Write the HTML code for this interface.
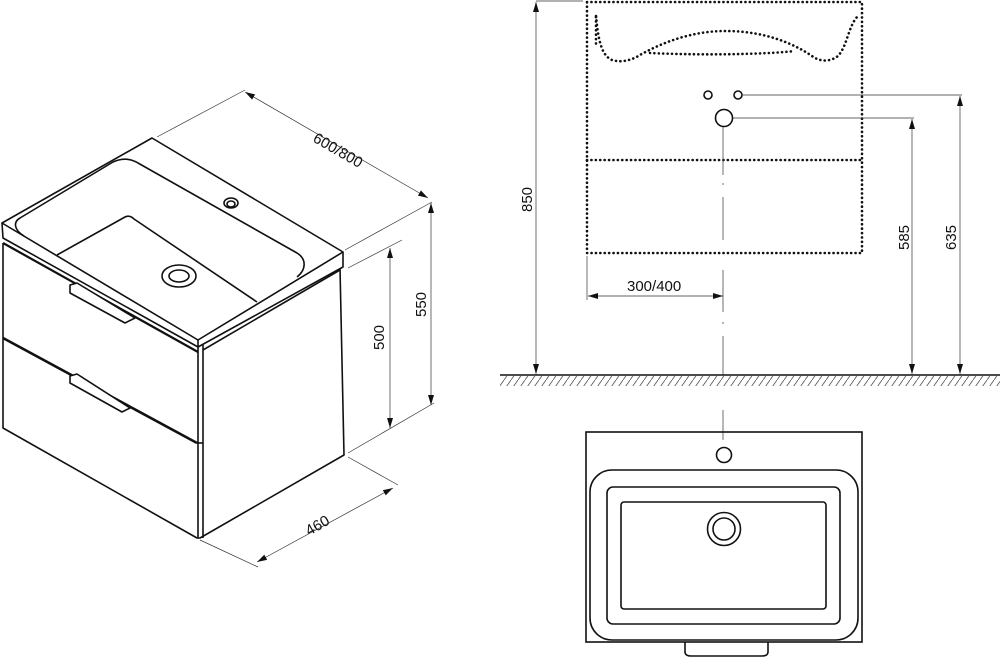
<!DOCTYPE html>
<html><head><meta charset="utf-8"><style>
html,body{margin:0;padding:0;background:#fff;}
svg{display:block;}
text{font-family:"Liberation Sans",Arial,sans-serif;font-size:15px;fill:#111;}
</style></head><body>
<svg width="1000" height="657" viewBox="0 0 1000 657" xmlns="http://www.w3.org/2000/svg">
<defs>
<marker id="a" viewBox="0 0 10 6" refX="10" refY="3" markerWidth="10" markerHeight="6" orient="auto-start-reverse" markerUnits="userSpaceOnUse"><path d="M0,0 L10,3 L0,6 z" fill="#111"/></marker>
<pattern id="h" width="7" height="10" patternUnits="userSpaceOnUse"><line x1="0" y1="10" x2="7" y2="0" stroke="#555" stroke-width="0.8"/></pattern>
</defs>

<!-- ISO cabinet -->
<g fill="none" stroke="#111" stroke-width="1.6" stroke-linejoin="round">
<path d="M2,223 L152,138 L343,252 L198,340 Z" fill="#fff"/>
<path d="M2,223 L3,238 L198,347 L343,267 L343,252"/>
<path d="M198,340 L198,347"/>
<path d="M3,243 L3,428 L197,538 L200,538 L344,455 L340,268"/>
<path d="M198,347 L198,538 M203,345 L203,538"/>
<path d="M203,350 L340,270"/>
<path d="M3,243 L198,352" stroke-width="2.2"/>
<path d="M3,338 L197,443" stroke-width="2.6"/>
<path d="M197,443 L203,443"/>
<path d="M70,285 L77,283 L135,318 L125,323 L70,293 Z" fill="#fff"/>
<path d="M70,376 L77,374 L130,408 L122,412 L70,383 Z" fill="#fff"/>
<path d="M24,236 C14,230 13,222 20,218 L113,162 C122,158 130,158 138,163 L297,253 C307,259 306,270 297,277"/>
<path d="M57,255 L125,217 C129,215 132,217 134,219 L257,302"/>
<ellipse cx="179" cy="276" rx="17" ry="11"/>
<ellipse cx="179" cy="276" rx="10" ry="6"/>
<ellipse cx="231" cy="203" rx="7" ry="5"/>
<ellipse cx="231" cy="204" rx="4" ry="3"/>
</g>

<g stroke="#333" stroke-width="0.7" fill="none">
<path d="M157,137 L245,90"/>
<path d="M345,250 L432,202"/>
<path d="M245,92 L428,198" marker-start="url(#a)" marker-end="url(#a)"/>
<path d="M348,268 L402,240"/>
<path d="M348,453 L434,403"/>
<path d="M390,248 L390,428" marker-start="url(#a)" marker-end="url(#a)"/>
<path d="M431,203 L431,405" marker-start="url(#a)" marker-end="url(#a)"/>
<path d="M348,457 L398,485"/>
<path d="M200,540 L258,567"/>
<path d="M257,562 L393,488" marker-start="url(#a)" marker-end="url(#a)"/>
</g>
<text transform="translate(312,141) rotate(30)">600/800</text>
<text transform="translate(384,350) rotate(-90)">500</text>
<text transform="translate(426,317) rotate(-90)">550</text>
<text transform="translate(309,536) rotate(-30)">460</text>

<!-- Elevation -->
<g fill="none" stroke="#111" stroke-width="2.6" stroke-dasharray="0.1 4.3" stroke-linecap="round">
<rect x="587" y="2" width="275" height="251"/>
<line x1="587" y1="160" x2="862" y2="160"/>
<path d="M596,16 C598,35 600,55 612,60 C622,63 632,60 640,55 C670,38 700,31 725,31 C755,31 785,38 812,56 C820,62 830,62 838,56 C848,45 848,25 859,15"/>
<path d="M650,53 C690,55 760,55 795,51"/>
<path d="M596,17 L596,45"/>
</g>
<g fill="none" stroke="#111" stroke-width="1.6">
<circle cx="708" cy="95" r="4"/>
<circle cx="738" cy="95" r="4"/>
<circle cx="724" cy="118" r="8.5"/>
</g>
<g stroke="#333" stroke-width="0.7" fill="none">
<line x1="742" y1="95" x2="962" y2="95"/>
<line x1="733" y1="118" x2="914" y2="118"/>
<line x1="960" y1="96" x2="960" y2="374" marker-start="url(#a)" marker-end="url(#a)"/>
<line x1="912" y1="119" x2="912" y2="374" marker-start="url(#a)" marker-end="url(#a)"/>
<line x1="536" y1="1" x2="583" y2="1"/>
<line x1="536" y1="2" x2="536" y2="374" marker-start="url(#a)" marker-end="url(#a)"/>
<line x1="587" y1="256" x2="587" y2="300"/>
<line x1="588" y1="296" x2="723" y2="296" marker-start="url(#a)" marker-end="url(#a)"/>
<path d="M723,127 L723,175 M723,183 L723,185 M723,197 L723,240 M723,270 L723,312 M723,322 L723,324 M723,336 L723,375 M723,410 L723,440"/>
</g>
<rect x="500" y="376" width="500" height="10" fill="url(#h)"/>
<line x1="500" y1="375" x2="1000" y2="375" stroke="#111" stroke-width="1.6"/>
<text transform="translate(532,212) rotate(-90)">850</text>
<text transform="translate(909,250) rotate(-90)">585</text>
<text transform="translate(956,250) rotate(-90)">635</text>
<text x="627" y="291">300/400</text>

<!-- Top view -->
<g fill="none" stroke="#111" stroke-width="1.6">
<rect x="586" y="432" width="276" height="210"/>
<rect x="590" y="470" width="268" height="170" rx="22"/>
<rect x="607" y="487" width="233" height="137" rx="6"/>
<rect x="621" y="502" width="205" height="107" rx="3"/>
<circle cx="724" cy="529" r="16.5"/>
<circle cx="724" cy="529" r="11"/>
<circle cx="724" cy="455" r="7.5"/>
<path d="M685,642 L685,652 C685,655 688,656 691,656 L762,656 C765,656 768,655 768,652 L768,642"/>
</g>
</svg>
</body></html>
